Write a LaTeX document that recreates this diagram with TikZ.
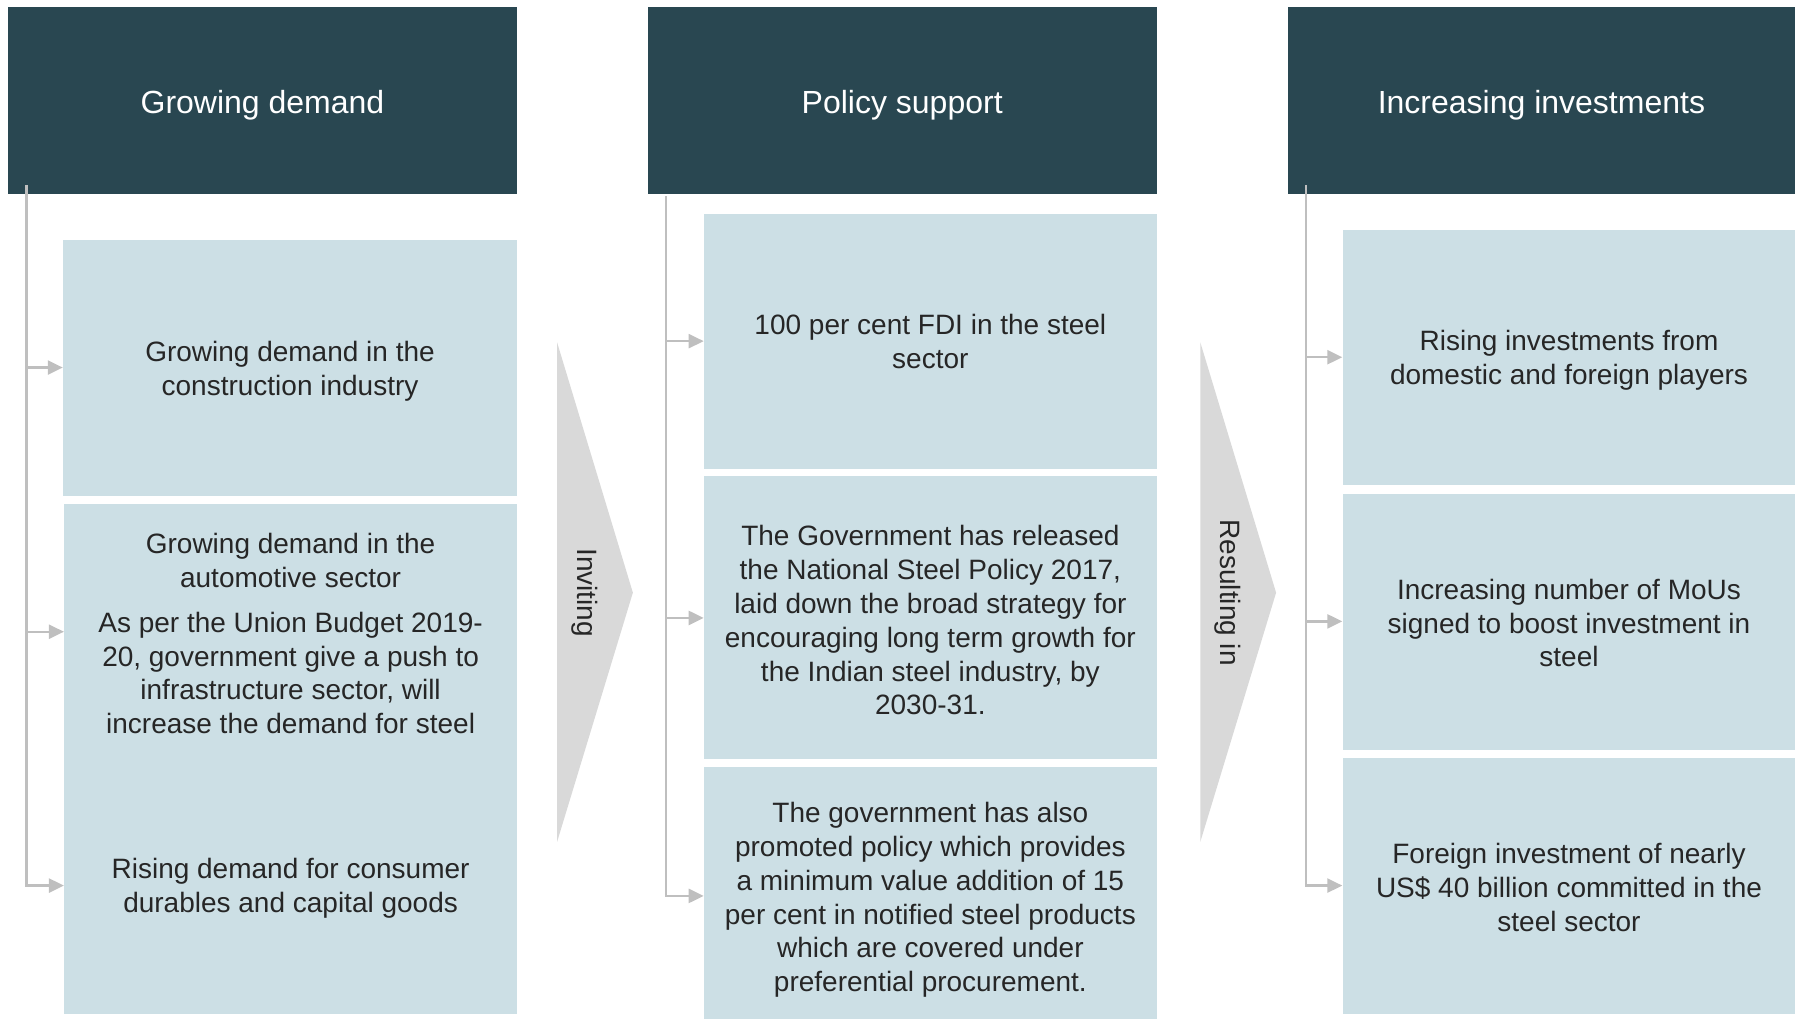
\documentclass[tikz,border=0pt]{standalone}
\usepackage{fontspec}
\setmainfont{Liberation Sans}
\usetikzlibrary{arrows.meta, positioning, fit}
\definecolor{headteal}{HTML}{294751}
\definecolor{boxblue}{HTML}{CCDFE5}
\definecolor{chevgray}{HTML}{D9D9D9}
\definecolor{linegray}{HTML}{BFBFBF}
\definecolor{bodytext}{HTML}{262626}
\tikzset{
  head/.style={fill=headteal, inner sep=0pt},
  headtext/.style={inner sep=0pt, text=white, font=\fontsize{16}{19}\selectfont},
  item/.style={fill=boxblue, inner sep=0pt},
  plain/.style={inner sep=0pt, align=center, text=bodytext, font=\fontsize{14}{16.9}\selectfont},
  trunk/.style={draw=linegray, line width=1.2pt},
  feed/.style={trunk, -{Triangle[length=7.5pt, width=7pt]}},
  chev/.style={fill=chevgray},
  chevtext/.style={rotate=-90, inner sep=0pt, text=bodytext, font=\fontsize{14}{16.9}\selectfont}
}
\begin{document}
\begin{tikzpicture}[x=0.5743pt, y=-0.5743pt]
  \useasboundingbox (0,0) rectangle (1568,888);

  % headers
  \node[head, fit={(7,6) (450,169)}] (h1) {};
  \node[head, fit={(564,6) (1007,169)}] (h2) {};
  \node[head, fit={(1121,6) (1563,169)}] (h3) {};
  \node[headtext] (h1t) at ([yshift=-2.3pt]h1.center) {Growing demand};
  \node[headtext] (h2t) at ([yshift=-2.3pt]h2.center) {Policy support};
  \node[headtext] (h3t) at ([yshift=-2.3pt]h3.center) {Increasing investments};

  % growing demand
  \node[item, fit={(55,209) (450,432)}] (d1) {};
  \node[item, fit={(56,439) (450,883)}] (d2) {};
  \node[plain] (d1t) at ([yshift=-1.7pt]d1.center) {Growing demand in the\\construction industry};
  \node[plain] (d2a) at (253,488) {Growing demand in the\\automotive sector};
  \node[plain] (d2b) at (253,586) {As per the Union Budget 2019-\\20, government give a push to\\infrastructure sector, will\\increase the demand for steel};
  \node[plain] (d2c) at (253,773) {Rising demand for consumer\\durables and capital goods};

  % policy support
  \node[item, fit={(613,186) (1007,408)}] (p1) {};
  \node[item, fit={(613,414) (1007,661)}] (p2) {};
  \node[item, fit={(613,668) (1007,887)}] (p3) {};
  \node[plain] (p1t) at (p1.center) {100 per cent FDI in the steel\\sector};
  \node[plain] (p2t) at ([yshift=-1.5pt]p2.center) {The Government has released\\the National Steel Policy 2017,\\laid down the broad strategy for\\encouraging long term growth for\\the Indian steel industry, by\\2030-31.};
  \node[plain] (p3t) at ([yshift=-3.5pt]p3.center) {The government has also\\promoted policy which provides\\a minimum value addition of 15\\per cent in notified steel products\\which are covered under\\preferential procurement.};

  % increasing investments
  \node[item, fit={(1169,200) (1563,422)}] (r1) {};
  \node[item, fit={(1169,430) (1563,653)}] (r2) {};
  \node[item, fit={(1169,660) (1563,883)}] (r3) {};
  \node[plain] (r1t) at ([yshift=-1.7pt]r1.center) {Rising investments from\\domestic and foreign players};
  \node[plain] (r2t) at ([yshift=-0.6pt]r2.center) {Increasing number of MoUs\\signed to boost investment in\\steel};
  \node[plain] (r3t) at ([yshift=-0.6pt]r3.center) {Foreign investment of nearly\\US\$ 40 billion committed in the\\steel sector};

  % chevrons
  \fill[chev] (485,298) -- (551,516) -- (485,733) -- cycle;
  \node[chevtext] (inv) at (509,516) {Inviting};
  \fill[chev] (1045,298) -- (1111,516) -- (1045,733) -- cycle;
  \node[chevtext] (res) at (1069,516) {Resulting in};

  % trunk lines
  \coordinate (a0) at (23,161);
  \coordinate (a1) at (23,320);
  \coordinate (a2) at (23,550);
  \coordinate (a3) at (23,771);
  \draw[feed] (a0) -- (a3) -- (a3 -| d2.west);
  \draw[feed] (a1) -- (a1 -| d1.west);
  \draw[feed] (a2) -- (a2 -| d2.west);

  \coordinate (b0) at (580,171);
  \coordinate (b1) at (580,297);
  \coordinate (b2) at (580,538);
  \coordinate (b3) at (580,780);
  \draw[feed] (b0) -- (b3) -- (b3 -| p3.west);
  \draw[feed] (b1) -- (b1 -| p1.west);
  \draw[feed] (b2) -- (b2 -| p2.west);

  \coordinate (c0) at (1137,161);
  \coordinate (c1) at (1137,311);
  \coordinate (c2) at (1137,541);
  \coordinate (c3) at (1137,771);
  \draw[feed] (c0) -- (c3) -- (c3 -| r3.west);
  \draw[feed] (c1) -- (c1 -| r1.west);
  \draw[feed] (c2) -- (c2 -| r2.west);
\end{tikzpicture}
\end{document}
